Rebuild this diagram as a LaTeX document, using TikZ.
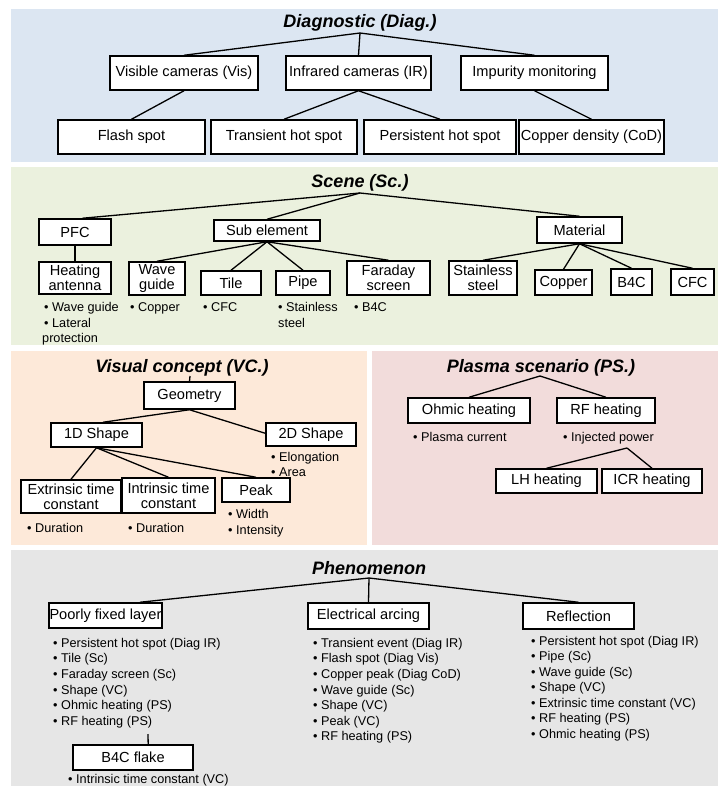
\documentclass[tikz,border=0pt]{standalone}
\usepackage{fontspec}
\setmainfont{Liberation Sans}
\usetikzlibrary{calc}
\definecolor{cdiag}{HTML}{DCE6F2}
\definecolor{cscene}{HTML}{EBF1DE}
\definecolor{cvc}{HTML}{FDE9D9}
\definecolor{cps}{HTML}{F2DCDB}
\definecolor{cph}{HTML}{E6E6E6}
\newcommand\bxat[6]{\node[bx, minimum width={#4-#2}, minimum height={#5-#3}] (#1) at ({(#2+#4)/2},{(#3+#5)/2}) {#6};}
\tikzset{
  bx/.style={draw, line width=1.5pt, fill=white, inner sep=0.5pt, align=center, font=\fontsize{14.6}{15}\selectfont},
  bul/.style={anchor=west, inner sep=0pt, font=\fontsize{12.7}{15.4}\selectfont, text height=9.3pt, text depth=2.7pt},
  ttl/.style={inner sep=0pt, font=\fontsize{18}{18}\selectfont\bfseries\itshape},
  cn/.style={line width=1.3pt},
}
\begin{document}
\begin{tikzpicture}[x=1pt,y=-1pt]
\useasboundingbox (0,0) rectangle (723,796);
% panels
\fill[cdiag] (11,9) rectangle (718,162);
\fill[cscene] (11,167) rectangle (718,345);
\fill[cvc] (11,351) rectangle (367,545);
\fill[cps] (372,351) rectangle (718,545);
\fill[cph] (11,550) rectangle (718,786);

% ---------- Diagnostic ----------
\node[ttl] (tdiag) at (360,23) {Diagnostic (Diag.)};
\bxat{vis}{110}{56}{258}{90}{Visible cameras (Vis)}
\bxat{ir}{286}{56}{431}{90}{Infrared cameras (IR)}
\bxat{imp}{461}{56}{608}{90}{Impurity monitoring}
\bxat{flash}{58}{120}{205}{154}{Flash spot}
\bxat{trans}{211}{120}{357}{154}{Transient hot spot}
\bxat{pers}{364}{120}{516}{154}{Persistent hot spot}
\bxat{cod}{519}{120}{664}{154}{Copper density (CoD)}
\coordinate (dj) at (360,33);
\draw[cn] (dj) -- (vis.north);
\draw[cn] (dj) -- (ir.north);
\draw[cn] (dj) -- (imp.north);
\draw[cn] (vis.south) -- (flash.north);
\draw[cn] (ir.south) -- (trans.north);
\draw[cn] (ir.south) -- (pers.north);
\draw[cn] (imp.south) -- (cod.north);

% ---------- Scene ----------
\node[ttl] (tscene) at (360,183) {Scene (Sc.)};
\bxat{pfc}{39}{219}{111}{245}{PFC}
\bxat{sub}{214}{220}{320}{241}{Sub element}
\bxat{mat}{537}{217}{622}{243}{Material}
\bxat{heat}{39}{262}{111}{294}{Heating\\antenna}
\bxat{wg}{129}{262}{185}{295}{Wave\\guide}
\bxat{tile}{201}{271}{261}{295}{Tile}
\bxat{pipe}{276}{271}{330}{295}{Pipe}
\bxat{far}{347}{261}{430}{295}{Faraday\\screen}
\bxat{ss}{449}{261}{517}{295}{Stainless\\steel}
\bxat{cu}{535}{270}{592}{295}{Copper}
\bxat{b4c}{611}{269}{652}{295}{B4C}
\bxat{cfc}{671}{269}{714}{295}{CFC}
\coordinate (sj) at (360,193);
\draw[cn] (sj) -- ($(pfc.north west)!0.6!(pfc.north east)$);
\draw[cn] (sj) -- (sub.north);
\draw[cn] (sj) -- (mat.north);
\draw[cn] (pfc.south) -- (heat.north);
\draw[cn] (sub.south) -- (wg.north);
\draw[cn] (sub.south) -- (tile.north);
\draw[cn] (sub.south) -- (pipe.north);
\draw[cn] (sub.south) -- (far.north);
\draw[cn] (mat.south) -- (ss.north);
\draw[cn] (mat.south) -- (cu.north);
\draw[cn] (mat.south) -- (b4c.north);
\draw[cn] (mat.south) -- (cfc.north);
\node[bul] (sb1) at (44,308) {• Wave guide};
\node[bul] (sb2) at (44,324) {• Lateral};
\node[bul] (sb3) at (42,339) {protection};
\node[bul] (sb4) at (130,308) {• Copper};
\node[bul] (sb5) at (203,308) {• CFC};
\node[bul] (sb6) at (278,308) {• Stainless};
\node[bul] (sb7) at (278,324) {steel};
\node[bul] (sb8) at (354,308) {• B4C};

% ---------- Visual concept ----------
\node[ttl] (tvc) at (182,368) {Visual concept (VC.)};
\bxat{geo}{144}{382}{235}{409}{Geometry}
\bxat{oned}{51}{423}{142}{447}{1D Shape}
\bxat{twod}{266}{423}{356}{446}{2D Shape}
\bxat{ext}{21}{480}{121}{513}{Extrinsic time\\constant}
\bxat{intr}{122}{478}{215}{513}{Intrinsic time\\constant}
\bxat{peak}{222}{478}{290}{502}{Peak}
\coordinate (vj) at (190,376);
\draw[cn] (vj) -- (geo.north);
\draw[cn] (geo.south) -- ($(oned.north west)!0.57!(oned.north east)$);
\draw[cn] (geo.south) -- ($(twod.north west)!0.45!(twod.south west)$);
\draw[cn] (oned.south) -- (ext.north);
\draw[cn] (oned.south) -- (intr.north);
\draw[cn] (oned.south) -- (peak.north);
\node[bul] (vb1) at (271,458) {• Elongation};
\node[bul] (vb2) at (271,473) {• Area};
\node[bul] (vb3) at (27,529) {• Duration};
\node[bul] (vb4) at (128,529) {• Duration};
\node[bul] (vb5) at (228,515) {• Width};
\node[bul] (vb6) at (228,531) {• Intensity};

% ---------- Plasma scenario ----------
\node[ttl] (tps) at (541,368) {Plasma scenario (PS.)};
\bxat{ohm}{408}{398}{530}{423}{Ohmic heating}
\bxat{rf}{557}{398}{655}{423}{RF heating}
\bxat{lh}{496}{469}{597}{493}{LH heating}
\bxat{icr}{602}{469}{702}{493}{ICR heating}
\coordinate (pj) at (540,376);
\draw[cn] (pj) -- (ohm.north);
\draw[cn] (pj) -- (rf.north);
\coordinate (rj) at (627,448);
\draw[cn] (rj) -- (lh.north);
\draw[cn] (rj) -- (icr.north);
\node[bul] (pb1) at (413,438) {• Plasma current};
\node[bul] (pb2) at (563,438) {• Injected power};

% ---------- Phenomenon ----------
\node[ttl] (tph) at (369,568) {Phenomenon};
\bxat{pfl}{49}{603}{162}{628}{Poorly fixed layer}
\bxat{arc}{308}{603}{429}{629}{Electrical arcing}
\bxat{refl}{523}{603}{634}{629}{Reflection}
\bxat{flake}{73}{745}{193}{770}{B4C flake}
\coordinate (phj) at (369,578);
\draw[cn] (phj) -- ($(pfl.north west)!0.8!(pfl.north east)$);
\draw[cn] (phj) -- (arc.north);
\draw[cn] (phj) -- (refl.north);
\coordinate (fj) at (148,734);
\draw[cn] (fj) -- ($(flake.north west)!0.625!(flake.north east)$);
\foreach \t [count=\i] in {{Persistent hot spot (Diag IR)},{Tile (Sc)},{Faraday screen (Sc)},{Shape (VC)},{Ohmic heating (PS)},{RF heating (PS)}}
  \node[bul] (fa\i) at (53,{644+15.6*(\i-1)}) {• \t};
\foreach \t [count=\i] in {{Transient event (Diag IR)},{Flash spot (Diag Vis)},{Copper peak (Diag CoD)},{Wave guide (Sc)},{Shape (VC)},{Peak (VC)},{RF heating (PS)}}
  \node[bul] (ea\i) at (313,{644+15.6*(\i-1)}) {• \t};
\foreach \t [count=\i] in {{Persistent hot spot (Diag IR)},{Pipe (Sc)},{Wave guide (Sc)},{Shape (VC)},{Extrinsic time constant (VC)},{RF heating (PS)},{Ohmic heating (PS)}}
  \node[bul] (re\i) at (531,{642+15.5*(\i-1)}) {• \t};
\node[bul] (fl1) at (68,780) {• Intrinsic time constant (VC)};
\end{tikzpicture}
\end{document}
